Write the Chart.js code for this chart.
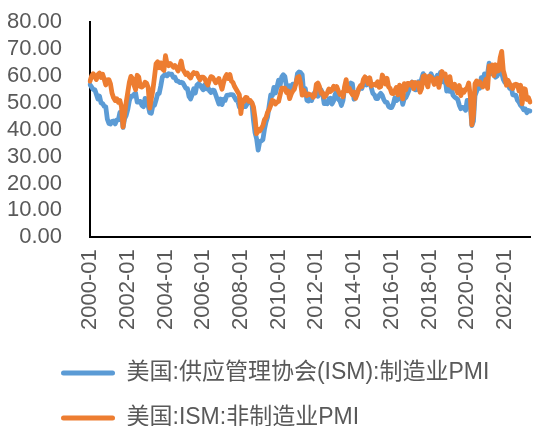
<!DOCTYPE html>
<html><head><meta charset="utf-8">
<script src="https://cdn.jsdelivr.net/npm/chart.js@4/dist/chart.umd.min.js"></script>
<style>html,body{margin:0;padding:0;background:#fff}#wrap{width:536px;height:426px}</style>
</head><body><div id="wrap"><canvas id="c" width="536" height="426"></canvas></div>
<script>
// ---- data ----
const startYear = 2000;           // first category: 2000-01, monthly
const labelEvery = 24;            // a tick label every 24 months
const seriesNames = ['美国:供应管理协会(ISM):制造业PMI', '美国:ISM:非制造业PMI'];
const manufacturingPMI = [
  56.7,55.8,54.9,54.9,53.2,51.4,52.5,49.9,49.7,48.7,48.5,43.9,
  42.3,42.1,43.1,43.2,42.1,43.6,43.6,46.4,46.2,40.8,44.1,45.3,
  47.5,50.7,52.4,52.4,53.1,53.6,50.2,50.3,50.5,49.0,48.5,51.6,
  51.3,48.8,46.3,46.1,49.0,49.0,51.0,53.2,53.4,56.2,59.5,60.1,
  60.5,60.0,60.8,60.5,60.6,59.4,59.5,58.1,58.0,57.5,57.6,57.4,
  56.4,55.3,55.2,52.3,51.4,53.0,55.2,53.6,56.5,57.1,56.6,55.6,
  54.8,56.7,55.2,55.8,54.4,53.8,54.7,54.5,52.9,51.2,49.5,51.4,
  49.3,51.3,50.9,52.7,52.8,53.0,53.0,52.9,52.0,50.9,50.8,48.4,
  50.7,48.3,48.6,48.6,49.6,50.2,50.0,49.9,43.5,38.9,36.6,32.4,
  35.6,35.8,36.3,40.1,42.8,44.8,48.9,52.9,52.6,55.7,53.6,55.9,
  58.4,56.5,59.6,60.4,59.7,56.2,55.5,56.3,54.4,56.9,56.6,57.0,
  60.8,61.4,61.2,60.4,53.5,55.3,50.9,50.6,51.6,50.8,52.7,53.9,
  54.1,52.4,53.4,54.8,53.5,49.7,49.8,49.6,51.5,51.7,49.5,50.7,
  53.1,54.2,51.3,50.7,49.0,50.9,55.4,55.7,56.2,56.4,57.3,57.0,
  51.3,53.2,53.7,54.9,55.4,55.3,57.1,59.0,56.6,59.0,58.7,55.5,
  53.5,52.9,51.5,51.5,52.8,53.5,52.7,51.1,50.2,50.1,48.6,48.2,
  48.2,49.5,51.8,50.8,51.3,53.2,52.6,49.4,51.5,51.9,53.2,54.7,
  56.0,57.7,57.2,54.8,54.9,57.8,56.3,58.8,60.8,58.7,58.2,59.7,
  59.1,60.8,59.3,57.3,58.7,60.2,58.1,61.3,59.8,57.7,59.3,54.3,
  56.6,54.2,55.3,52.8,52.1,51.7,51.2,49.1,47.8,48.3,48.1,47.2,
  50.9,50.1,49.1,41.5,43.1,52.6,54.2,56.0,55.4,59.3,57.5,60.7,
  58.7,60.8,64.7,60.7,61.2,60.6,59.5,59.9,61.1,60.8,61.1,58.7,
  57.6,58.6,57.1,55.4,56.1,53.0,52.8,52.8,50.9,50.2,49.0,48.4,
  47.4,47.7,46.3,47.1,46.9
];
const servicesPMI = [
  58.0,60.0,60.8,59.6,58.6,60.5,61.0,59.4,60.6,58.8,56.6,58.5,
  58.6,57.0,53.5,51.8,50.8,51.5,50.2,50.8,48.5,41.0,45.6,50.2,
  53.8,57.6,59.8,59.0,56.5,54.8,60.2,59.5,56.0,55.8,56.4,57.6,
  57.2,55.6,48.0,51.5,54.8,59.5,64.5,65.2,63.0,64.8,62.6,62.0,
  67.5,64.5,63.8,64.6,64.0,63.2,63.8,63.0,61.8,63.5,65.5,62.5,
  61.5,60.5,61.0,59.8,59.2,60.5,61.2,60.8,61.0,59.5,58.5,59.5,
  59.5,59.0,57.5,56.6,58.5,59.7,59.5,58.5,57.4,58.2,59.0,57.0,
  55.0,57.5,59.5,60.5,59.0,60.5,58.0,57.5,56.0,55.0,54.0,53.0,
  46.0,51.0,50.5,52.0,51.8,50.5,50.8,50.0,48.5,44.4,38.5,40.1,
  39.5,40.5,41.5,43.7,44.5,46.5,47.5,49.0,50.9,50.6,49.5,50.2,
  50.5,53.0,55.4,55.4,55.4,53.8,54.3,51.5,53.2,54.3,55.0,57.1,
  59.4,59.7,57.3,52.8,54.6,53.3,52.7,53.3,53.0,52.9,52.0,52.6,
  56.8,57.3,56.0,53.5,53.7,52.1,52.6,53.7,55.1,54.2,54.7,56.1,
  55.2,56.0,54.4,53.1,53.7,52.2,56.0,58.6,54.4,55.4,53.9,53.0,
  54.0,51.6,53.1,55.2,56.3,56.0,58.7,59.6,58.6,57.1,59.3,56.2,
  56.7,56.9,56.5,57.8,55.7,56.0,60.3,59.0,56.9,59.1,55.9,55.3,
  53.5,53.4,54.5,55.7,52.9,56.5,55.5,51.4,57.1,54.8,57.2,57.2,
  56.5,57.6,55.2,57.5,56.9,57.4,53.9,55.3,59.8,60.1,57.4,55.9,
  59.9,59.5,58.8,56.8,58.6,59.1,55.7,58.5,61.6,60.3,60.7,57.6,
  56.7,59.7,56.1,55.5,56.9,55.1,53.7,56.4,52.6,54.7,53.9,55.0,
  55.5,57.3,52.5,41.8,45.4,57.1,58.1,56.9,57.8,56.6,55.9,57.2,
  58.7,55.3,63.7,62.7,64.0,60.1,64.1,61.7,61.9,66.7,69.1,62.0,
  59.9,56.5,58.3,57.1,55.9,55.3,56.7,56.9,56.7,54.4,56.5,49.6,
  55.2,55.1,51.2,51.9,50.3
];
const yTickMin = 0, yTickMax = 80, yTickStep = 10;

// month categories 2000-01 ...
const categories = manufacturingPMI.map((_, i) =>
  (startYear + Math.floor(i / 12)) + '-' + String(i % 12 + 1).padStart(2, '0'));

// ---- styling ----
const BLUE = '#5B9BD5', ORANGE = '#ED7D31', TEXT = '#595959';
const FONT = "'Liberation Sans', 'Noto Sans CJK SC', sans-serif";
const LEGEND_SIZE = 23;

const legendPlace = {
  id: 'legendPlace',
  afterLayout(chart) {
    const lg = chart.legend;
    const p = lg.options.labels.padding;
    lg.left = 61 - p;
    lg.top = 373 - p - LEGEND_SIZE / 2;
  }
};

new Chart(document.getElementById('c'), {
  type: 'line',
  data: {
    labels: categories,
    datasets: [
      { label: seriesNames[0], data: manufacturingPMI, borderColor: BLUE, backgroundColor: BLUE,
        borderWidth: 4.8, pointRadius: 0, tension: 0, borderJoinStyle: 'round', borderCapStyle: 'round', order: 2 },
      { label: seriesNames[1], data: servicesPMI, borderColor: ORANGE, backgroundColor: ORANGE,
        borderWidth: 4.8, pointRadius: 0, tension: 0, borderJoinStyle: 'round', borderCapStyle: 'round', order: 1 }
    ]
  },
  options: {
    responsive: false,
    animation: false,
    layout: { padding: { left: -21, right: 6, top: 0, bottom: -16 } },
    scales: {
      x: {
        type: 'category',
        grid: { display: false, drawTicks: false },
        border: { display: true, color: '#000', width: 2 },
        afterFit(scale) { scale.paddingRight = 0; },
        ticks: {
          autoSkip: false, minRotation: 90, maxRotation: 90, padding: 12,
          color: TEXT, font: { family: FONT, size: 22 },
          callback(v, i) { return i % labelEvery === 0 ? this.getLabelForValue(v) : null; }
        }
      },
      y: {
        min: yTickMin, max: yTickMax,
        grid: { display: false, drawTicks: false },
        border: { display: true, color: '#000', width: 2 },
        afterFit(scale) { scale.paddingTop = 22; },
        ticks: { stepSize: yTickStep, autoSkip: false, padding: 28, color: TEXT,
          font: { family: FONT, size: 22 },
          callback: v => Number(v).toFixed(2) }
      }
    },
    plugins: {
      tooltip: { enabled: false },
      legend: {
        position: 'bottom', align: 'start',
        labels: {
          boxWidth: 54, boxHeight: 5, padding: 45 - LEGEND_SIZE, color: TEXT,
          font: { family: FONT, size: LEGEND_SIZE },
          useBorderRadius: true, borderRadius: 2.5,
          sort: (a, b) => a.datasetIndex - b.datasetIndex,
          generateLabels(chart) {
            return Chart.defaults.plugins.legend.labels.generateLabels(chart)
              .map(it => Object.assign(it, { lineWidth: 0 }));
          }
        }
      }
    }
  },
  plugins: [legendPlace]
});
</script></body></html>
